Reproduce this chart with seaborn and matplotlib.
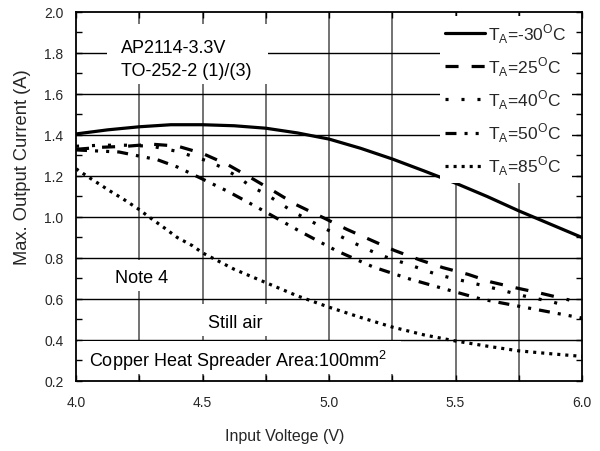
import matplotlib
matplotlib.use("Agg")
import matplotlib.pyplot as plt
from matplotlib.patches import Rectangle
import seaborn as sns
import pandas as pd

# ---- data ----
v_m30 = [4.0, 4.125, 4.25, 4.375, 4.5, 4.625, 4.75, 4.875, 5.0, 5.125, 5.25, 5.375, 5.5, 5.625, 5.75, 5.875, 6.0]
i_m30 = [1.405, 1.425, 1.44, 1.45, 1.45, 1.445, 1.433, 1.41, 1.38, 1.335, 1.283, 1.225, 1.165, 1.10, 1.03, 0.965, 0.90]

v_25 = [4.0, 4.1, 4.2, 4.3, 4.4, 4.5, 4.6, 4.7, 4.78, 4.87, 4.98, 5.07, 5.17, 5.26, 5.36, 5.45, 5.55, 5.64, 5.74, 5.83, 5.95]
i_25 = [1.33, 1.34, 1.345, 1.355, 1.346, 1.31, 1.255, 1.185, 1.127, 1.06, 0.995, 0.94, 0.885, 0.836, 0.79, 0.753, 0.72, 0.683, 0.654, 0.63, 0.595]

v_40 = [4.0, 4.1, 4.2, 4.3, 4.4, 4.52, 4.58, 4.64, 4.69, 4.75, 4.86, 4.98, 5.09, 5.2, 5.32, 5.43, 5.55, 5.66, 5.77, 5.885, 5.94]
i_40 = [1.345, 1.35, 1.35, 1.345, 1.32, 1.273, 1.24, 1.195, 1.15, 1.112, 1.024, 0.946, 0.878, 0.815, 0.766, 0.718, 0.683, 0.65, 0.615, 0.585, 0.566]

v_50 = [4.0, 4.17, 4.25, 4.32, 4.4, 4.5, 4.6, 4.69, 4.75, 4.885, 5.03, 5.175, 5.32, 5.46, 5.6, 5.745, 5.9, 6.0]
i_50 = [1.327, 1.317, 1.297, 1.28, 1.244, 1.185, 1.125, 1.065, 1.024, 0.93, 0.835, 0.756, 0.697, 0.648, 0.60, 0.566, 0.53, 0.507]

v_85 = [4.0, 4.055, 4.134, 4.186, 4.245, 4.3, 4.35, 4.4, 4.46, 4.5, 4.625, 4.75, 4.875, 5.0, 5.125, 5.25, 5.375, 5.5, 5.625, 5.75, 5.875, 6.0]
i_85 = [1.235, 1.19, 1.127, 1.088, 1.04, 0.99, 0.946, 0.90, 0.86, 0.825, 0.745, 0.68, 0.615, 0.56, 0.51, 0.463, 0.425, 0.395, 0.37, 0.347, 0.333, 0.32]

labels = [r"T$_\mathregular{A}$=-30$^\mathregular{O}$C",
          r"T$_\mathregular{A}$=25$^\mathregular{O}$C",
          r"T$_\mathregular{A}$=40$^\mathregular{O}$C",
          r"T$_\mathregular{A}$=50$^\mathregular{O}$C",
          r"T$_\mathregular{A}$=85$^\mathregular{O}$C"]

x_ticks = [4.0, 4.5, 5.0, 5.5, 6.0]
y_ticks = [0.2, 0.4, 0.6, 0.8, 1.0, 1.2, 1.4, 1.6, 1.8, 2.0]

# ---- style ----
sns.set_style("ticks")
plt.rcParams["font.family"] = ["Liberation Sans", "DejaVu Sans"]
plt.rcParams["lines.scale_dashes"] = False

fig = plt.figure(figsize=(6, 4.52), dpi=100)
ax = fig.add_axes([0.1267, 0.1549, 0.8433, 0.8164])

ax.set_xlim(4.0, 6.0)
ax.set_ylim(0.2, 2.0)

# grid drawn manually (under text boxes)
for gx in [4.25, 4.5, 4.75, 5.0, 5.25, 5.5, 5.75]:
    ax.axvline(gx, color="#5a5a5a", lw=1.2, zorder=0.8)
for gy in [0.4, 0.6, 0.8, 1.0, 1.2, 1.4, 1.6, 1.8]:
    ax.axhline(gy, color="black", lw=1.0, zorder=0.8)

# white boxes behind annotations (axes fraction)
boxes = [(0.0613, 0.8049, 0.3181, 0.1626),
         (0.057, 0.244, 0.150, 0.084),
         (0.234, 0.122, 0.158, 0.0867),
         (0.003, 0.019, 0.639, 0.0895)]
for (bx, by, bw, bh) in boxes:
    ax.add_patch(Rectangle((bx, by), bw, bh, transform=ax.transAxes,
                           facecolor="white", edgecolor="none", zorder=1))

series = [(v_m30, i_m30), (v_25, i_25), (v_40, i_40), (v_50, i_50), (v_85, i_85)]
dash_patterns = [None, (9.4, 9.4), (2.2, 9.3), (7.9, 5.8, 2.2, 5.8, 2.2, 5.8), (2.2, 3.6)]

for (vx, iy), lab, dp in zip(series, labels, dash_patterns):
    df = pd.DataFrame({"V": vx, "I": iy})
    sns.lineplot(data=df, x="V", y="I", ax=ax, color="black", lw=2.3,
                 label=lab, estimator=None, sort=False, zorder=2)
    ln = ax.lines[-1]
    if dp is not None:
        ln.set_linestyle((0, dp))
    ln.set_dash_capstyle("butt")

ax.set_axisbelow(False)
ax.set_xticks(x_ticks)
ax.set_yticks(y_ticks)
ax.set_xticklabels([f"{t:.1f}" for t in x_ticks])
ax.set_yticklabels([f"{t:.1f}" for t in y_ticks])
ax.set_xticks([4.25, 4.75, 5.25, 5.75], minor=True)
ax.set_yticks([0.3, 0.5, 0.7, 0.9, 1.1, 1.3, 1.5, 1.7, 1.9], minor=True)
ax.tick_params(which="both", direction="in", top=True, right=True,
               length=4.5, width=1.0, color="black")
ax.tick_params(axis="x", which="major", labelsize=10, pad=10)
ax.tick_params(axis="y", which="major", labelsize=10, pad=9)
for sp in ax.spines.values():
    sp.set_color("black")
    sp.set_linewidth(1.3)

ax.set_xlabel("Input Voltege (V)", fontsize=11.5)
ax.xaxis.set_label_coords(0.413, -0.127)
ax.set_ylabel("Max. Output Current (A)", fontsize=13.2)
ax.yaxis.set_label_coords(-0.089, 0.583)

# annotations
tk = dict(transform=ax.transAxes, fontsize=13, color="black", zorder=1.5, va="baseline", ha="left")
ax.text(0.0889, 0.8916, "AP2114-3.3V", **tk)
ax.text(0.0889, 0.8293, "TO-252-2 (1)/(3)", **tk)
ax.text(0.077, 0.268, "Note 4", **tk)
ax.text(0.261, 0.146, "Still air", **tk)
ax.text(0.0257, 0.0407, r"Copper Heat Spreader Area:100mm$^\mathregular{2}$", **tk)

leg = ax.legend(loc="upper right", bbox_to_anchor=(0.98, 0.989), frameon=True,
                facecolor="white", edgecolor="none", framealpha=1, fancybox=False,
                fontsize=12.5, handlelength=2.3, handletextpad=0.15,
                labelspacing=0.55, borderpad=0.3, borderaxespad=0)
leg.set_zorder(5)

fig.savefig("out.png", dpi=100)
